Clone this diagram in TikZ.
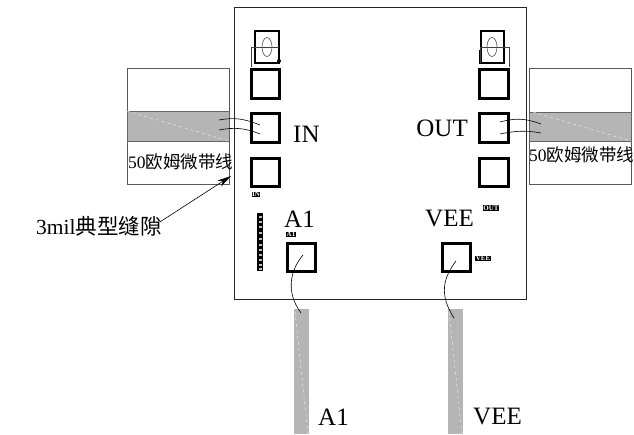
\documentclass[tikz,border=0pt]{standalone}
\usepackage{fontspec}
\setmainfont{Liberation Serif}
\newfontfamily\cjk{Noto Sans CJK SC}
\usetikzlibrary{arrows.meta}
\definecolor{band}{gray}{0.71}
\tikzset{
  x=1pt,y=-1pt,
  pad/.style={draw=black,line width=3.2pt,minimum width=28.5pt,minimum height=28.5pt,inner sep=0pt},
  board/.style={draw=black!85,line width=0.8pt},
  linebox/.style={draw=black!65,line width=0.8pt},
  bandbox/.style={fill=band,draw=black!60,line width=0.5pt},
  strip/.style={fill=band,draw=none},
  slash/.style={draw=white!85!band,line width=0.4pt,dashed},
  wire/.style={draw=black,line width=0.6pt},
  big/.style={font=\fontsize{25}{25}\selectfont,inner sep=0pt},
  zh/.style={font=\fontsize{17.5}{18}\selectfont,inner sep=0pt},
  tag/.style={fill=black,text=white,font=\fontsize{7}{7}\selectfont\bfseries,inner sep=0.6pt},
}
\begin{document}
\begin{tikzpicture}
\useasboundingbox (0,0) rectangle (634,434);
\draw[board] (234,7) rectangle (526,299);
% microstrip boxes
\draw[linebox] (127,68) rectangle (229,184);
\draw[bandbox] (127,111) rectangle (229,141);
\draw[slash] (127,111) -- (229,141);
\draw[linebox] (529,68) rectangle (631,184);
\draw[bandbox] (529,112) rectangle (631,141);
\draw[slash] (533,112) -- (631,141);
% bias strips
\fill[strip] (294,309) rectangle (309,434);
\draw[slash] (295,312) -- (308,434);
\fill[strip] (448,309) rectangle (463,434);
\draw[slash] (449,312) -- (462,434);
% pads
\node[pad] (p1) at (265.5,84) {};
\node[pad] (p2) at (265.5,128) {};
\node[pad] (p3) at (265.5,172.5) {};
\node[pad] (q1) at (494,84) {};
\node[pad] (q2) at (494,128) {};
\node[pad] (q3) at (494,172.5) {};
\node[pad] (a1) at (301.5,257.5) {};
\node[pad] (vee) at (456.5,257.5) {};
% connector blocks
\draw[draw=black,line width=1.1pt] (255,31) rectangle (279,63);
\draw[draw=black!75,line width=0.7pt] (251,67) -- (251,47) -- (279,47);
\draw[draw=black!70,line width=0.6pt] (267,47) ellipse [x radius=5,y radius=9.5];
\fill (279,61) circle [radius=2];
\draw[draw=black,line width=1.1pt] (481,31) rectangle (504,63);
\draw[draw=black!75,line width=0.7pt] (480,63) -- (480,47) -- (509,47) -- (509,67);
\draw[draw=black,line width=1.3pt] (479.5,50) -- (479.5,64);
\draw[draw=black!70,line width=0.6pt] (492,47) ellipse [x radius=5,y radius=9.5];
% bond wires
\draw[wire] (219,120) .. controls (235,117) and (245,119) .. (260,125);
\draw[wire] (219,130) .. controls (235,127) and (245,128) .. (260,134);
\draw[wire] (500,122) .. controls (515,118) and (525,118) .. (541,124);
\draw[wire] (500,134) .. controls (515,131) and (525,130) .. (541,133);
\draw[wire] (303,255) .. controls (292,268) and (284,290) .. (301,313);
\draw[wire] (456,261) .. controls (443,278) and (439,295) .. (454,318);
% labels
\node[big,anchor=west] (lin) at (293,134) {IN};
\node[big,anchor=east] (lout) at (468,128) {OUT};
\node[big,anchor=west] (la1) at (284,219) {A1};
\node[big,anchor=west] (lvee) at (425,219) {VEE};
\node[big,anchor=west] (lb1) at (318,417) {A1};
\node[big,anchor=west] (lb2) at (473,416) {VEE};
\node[zh,anchor=west] (z1) at (128,162) {50\cjk 欧姆微带线};
\node[zh,anchor=west] (z2) at (529,155) {50\cjk 欧姆微带线};
\node[font=\fontsize{21.5}{22}\selectfont,inner sep=0pt,anchor=west] (gap) at (36,226) {3mil\cjk 典型缝隙};
\coordinate (gaptip) at (231,176);
\draw[-{Stealth[length=14pt,width=7pt]},line width=0.6pt] (gap.east) ++(-2,-4) -- (gaptip);
% tiny tags
\node[tag] (t1) at (256,194.5) {IN};
\node[tag] (t2) at (291,234.5) {A1};
\node[tag] (t3) at (491,208) {OUT};
\node[tag] (t4) at (483,258.5) {VEE};
% illegible vertical tag: a black bar with pale marks only
\fill[black] (257,213) rectangle (263,271);
\foreach \yy in {216,221,226,232,238,244,249,254,259,264,268}
  \fill[white!75!black] (258.5,\yy) rectangle (261.5,\yy+1.6);
\end{tikzpicture}
\end{document}
